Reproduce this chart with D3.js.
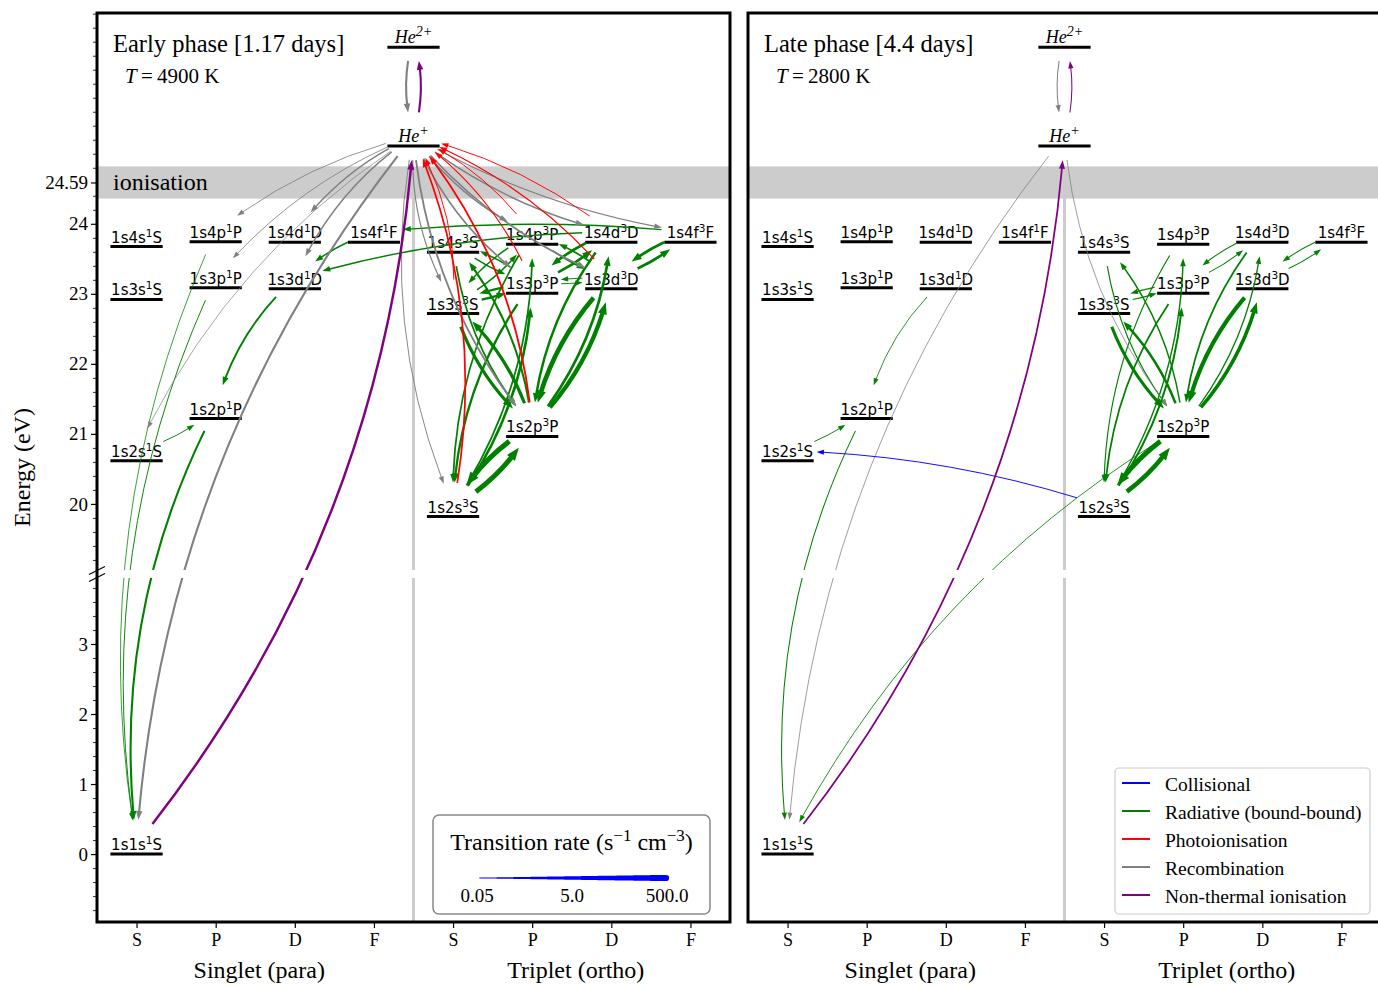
<!DOCTYPE html>
<html><head><meta charset="utf-8">
<script src="https://cdn.jsdelivr.net/npm/d3@7"></script>
<style>body{margin:0;background:#fff}svg{display:block}</style>
</head><body>
<svg id="chart" width="1378" height="985"></svg>
<script>
// ================= DATA =================
const columns = ["S","P","D","F","S","P","D","F"];
const yTicksLow = [0,1,2,3];
const yTicksHigh = [20,21,22,23,24,24.59];
const ionisationEnergy = 24.59;
const rateLegendTicks = [0.05, 5.0, 500.0];
const phaseTitles = ["Early phase [1.17 days]", "Late phase [4.4 days]"];
const phaseTemps = [4900, 2800];
const legendTypes = ["Collisional","Radiative (bound-bound)","Photoionisation","Recombination","Non-thermal ionisation"];

// [name, spin, L, energy (eV)]
const levels = [
  ["1s1s1S","singlet","S",0.0],
  ["1s2s1S","singlet","S",20.616],
  ["1s3s1S","singlet","S",22.920],
  ["1s4s1S","singlet","S",23.674],
  ["1s2p1P","singlet","P",21.218],
  ["1s3p1P","singlet","P",23.087],
  ["1s4p1P","singlet","P",23.742],
  ["1s3d1D","singlet","D",23.074],
  ["1s4d1D","singlet","D",23.736],
  ["1s4f1F","singlet","F",23.737],
  ["1s2s3S","triplet","S",19.820],
  ["1s3s3S","triplet","S",22.718],
  ["1s4s3S","triplet","S",23.594],
  ["1s2p3P","triplet","P",20.964],
  ["1s3p3P","triplet","P",23.007],
  ["1s4p3P","triplet","P",23.708],
  ["1s3d3D","triplet","D",23.074],
  ["1s4d3D","triplet","D",23.736],
  ["1s4f3F","triplet","F",23.737],
  ["He+","ion",null,25.11],
  ["He2+","ion",null,26.52]
];

// transitions: [from, to, rate (s^-1 cm^-3)]
const earlyCollisional = [];
const earlyRadiative = [
  ["1s2p1P","1s1s1S",1.0],["1s3p1P","1s1s1S",0.1],["1s4p1P","1s1s1S",0.07],
  ["1s2s1S","1s2p1P",0.1],["1s3d1D","1s2p1P",0.6],["1s4f1F","1s3d1D",0.3],
  ["1s4f3F","1s4f1F",0.25],["1s4d3D","1s3d1D",0.25],
  ["1s2p3P","1s2s3S",500],["1s2s3S","1s2p3P",300],
  ["1s3d3D","1s2p3P",150],["1s2p3P","1s3d3D",80],
  ["1s3s3S","1s2p3P",10],["1s2p3P","1s3s3S",8],
  ["1s3p3P","1s2s3S",1.5],["1s2s3S","1s3p3P",3],
  ["1s4p3P","1s2s3S",0.5],["1s2s3S","1s4p3P",0.5],
  ["1s4s3S","1s2p3P",0.5],["1s2p3P","1s4s3S",1.0],
  ["1s4d3D","1s2p3P",2],["1s2p3P","1s4d3D",3],
  ["1s3p3P","1s3s3S",1.5],["1s3s3S","1s3p3P",1.5],
  ["1s4f3F","1s3d3D",5],["1s3d3D","1s4f3F",5],
  ["1s4d3D","1s3p3P",3],["1s3p3P","1s4d3D",3],
  ["1s4p3P","1s3s3S",0.3],["1s3s3S","1s4p3P",0.3],
  ["1s4s3S","1s3p3P",0.3],["1s3p3P","1s4s3S",0.3],
  ["1s4p3P","1s3d3D",0.3],["1s3d3D","1s4p3P",0.5],
  ["1s3d3D","1s3p3P",0.1],["1s3p3P","1s3d3D",0.1]
];
const earlyPhotoionisation = [
  ["1s2s3S","He+",0.5],["1s2p3P","He+",0.6],["1s3s3S","He+",0.1],
  ["1s3p3P","He+",0.15],["1s3d3D","He+",0.15],["1s4p3P","He+",0.1],["1s4d3D","He+",0.1]
];
const earlyRecombination = [
  ["He2+","He+",1.0],["He+","1s1s1S",1.0],["He+","1s2s1S",0.06],["He+","1s3p1P",0.08],
  ["He+","1s4p1P",0.08],["He+","1s3d1D",0.25],["He+","1s4d1D",0.25],
  ["He+","1s2s3S",0.1],["He+","1s2p3P",0.6],["He+","1s3s3S",0.15],["He+","1s3p3P",0.4],
  ["He+","1s3d3D",0.5],["He+","1s4p3P",0.3],["He+","1s4d3D",0.3],["He+","1s4f3F",0.15]
];
const earlyNonThermal = [["1s1s1S","He+",2.0],["He+","He2+",1.0]];

const lateCollisional = [["1s2s3S","1s2s1S",0.1]];
const lateRadiative = [
  ["1s2p1P","1s1s1S",0.12],["1s2s1S","1s2p1P",0.1],["1s3d1D","1s2p1P",0.08],["1s2p3P","1s1s1S",0.08],
  ["1s2p3P","1s2s3S",300],["1s2s3S","1s2p3P",150],
  ["1s3d3D","1s2p3P",60],["1s2p3P","1s3d3D",20],
  ["1s3s3S","1s2p3P",8],["1s2p3P","1s3s3S",2],
  ["1s4d3D","1s2p3P",0.5],["1s2p3P","1s4d3D",0.2],
  ["1s3p3P","1s2s3S",0.5],["1s2s3S","1s3p3P",0.8],
  ["1s4p3P","1s2s3S",0.15],["1s2s3S","1s4p3P",0.25],
  ["1s4s3S","1s2p3P",0.15],["1s2p3P","1s4s3S",0.25],
  ["1s3p3P","1s3s3S",0.15],["1s3s3S","1s3p3P",0.15],
  ["1s4d3D","1s3p3P",0.12],["1s3p3P","1s4d3D",0.12],
  ["1s4f3F","1s3d3D",0.12],["1s3d3D","1s4f3F",0.12]
];
const latePhotoionisation = [];
const lateRecombination = [["He2+","He+",0.12],["He+","1s1s1S",0.07],["He+","1s2p3P",0.07]];
const lateNonThermal = [["1s1s1S","He+",0.5],["He+","He2+",0.12]];

// ================= DRAWING =================
const svg = d3.select("#chart");
const serif = "'Liberation Serif','Times New Roman',serif";
const sans = "'DejaVu Sans','Noto Sans',sans-serif";
const typeColors = {"Collisional":"blue","Radiative (bound-bound)":"green","Photoionisation":"red","Recombination":"gray","Non-thermal ionisation":"purple"};
const panelLeft = [97, 748], panelW = 633, plotTop = 13, plotBottom = 922;
const y = d3.scaleLinear().domain([-0.97, 12.01]).range([plotBottom, plotTop]);
const shiftE = E => E > 10 ? E - 15 : E;   // broken axis: upper segment shifted by 15 eV
const breakAt = 4.0;
const wScale = d3.scaleLog().domain([0.05, 500]).range([0.6, 5.2]).clamp(true);
const colOf = (spin, L) => spin === "ion" ? 3.5 : (spin === "triplet" ? 4 : 0) + ["S","P","D","F"].indexOf(L);
const levelMap = new Map(levels.map(d => [d[0], {name:d[0], col:colOf(d[1], d[2]), E:d[3], spin:d[1]}]));

const phaseData = [
  [[earlyRadiative,"Radiative (bound-bound)"],[earlyRecombination,"Recombination"],[earlyPhotoionisation,"Photoionisation"],[earlyCollisional,"Collisional"],[earlyNonThermal,"Non-thermal ionisation"]],
  [[lateRadiative,"Radiative (bound-bound)"],[lateRecombination,"Recombination"],[latePhotoionisation,"Photoionisation"],[lateCollisional,"Collisional"],[lateNonThermal,"Non-thermal ionisation"]]
];

const HW = 27, HH = 22, SHRINK = 2;
function drawArrow(g, x, from, to, color, rate) {
  const a = levelMap.get(from), b = levelMap.get(to);
  const p0 = [x(a.col), y(shiftE(a.E)) - 10];
  const p2 = [x(b.col), y(shiftE(b.E)) - 10];
  const dx = p2[0]-p0[0], dy = p2[1]-p0[1], L = Math.hypot(dx, dy);
  const rad = 0.15*Math.abs(dy)/L + 0.05*Math.abs(dx)/L;
  const c = [(p0[0]+p2[0])/2 - rad*dy, (p0[1]+p2[1])/2 + rad*dx];
  const B = t => { const u = 1-t; return [u*u*p0[0]+2*u*t*c[0]+t*t*p2[0], u*u*p0[1]+2*u*t*c[1]+t*t*p2[1]]; };
  const D = t => [2*(1-t)*(c[0]-p0[0])+2*t*(p2[0]-c[0]), 2*(1-t)*(c[1]-p0[1])+2*t*(p2[1]-c[1])];
  const inside = (p, q) => Math.pow((p[0]-q[0])/HW, 2) + Math.pow((p[1]-q[1])/HH, 2) < 1;
  const N = 3000;
  let t0 = 0, t1 = 1;
  for (let i = 0; i <= N; i++) { const t = i/N; if (!inside(B(t), p0)) { t0 = t; break; } }
  for (let i = N; i >= 0; i--) { const t = i/N; if (!inside(B(t), p2)) { t1 = t; break; } }
  t0 += SHRINK / Math.hypot(...D(t0));
  t1 -= SHRINK / Math.hypot(...D(t1));
  if (t1 <= t0) return;
  const lw = wScale(rate);
  const headL = 6 + 1.4*lw, headW = 4 + 1.2*lw;
  const tip = B(t1);
  let tb = t1;
  const step = (t1 - t0)/2000;
  while (tb > t0) { tb -= step; const p = B(tb); if (Math.hypot(p[0]-tip[0], p[1]-tip[1]) >= headL) break; }
  const base = B(tb);
  const len = Math.hypot(tip[0]-base[0], tip[1]-base[1]) || 1;
  const ux = (tip[0]-base[0])/len, uy = (tip[1]-base[1])/len;
  const bx = tip[0] - ux*headL, by = tip[1] - uy*headL;
  const tEnd = tb + (t1 - tb)*0.3;
  const q0 = B(t0), q2 = B(tEnd), d0 = D(t0);
  const qc = [q0[0] + (tEnd-t0)/2*d0[0], q0[1] + (tEnd-t0)/2*d0[1]];
  g.append("path").attr("d", `M${q0[0]},${q0[1]}Q${qc[0]},${qc[1]} ${q2[0]},${q2[1]}`)
    .attr("fill","none").attr("stroke", color).attr("stroke-width", lw).attr("stroke-linecap","butt");
  g.append("path").attr("d", `M${tip[0]},${tip[1]}L${bx - uy*headW/2},${by + ux*headW/2}L${bx + uy*headW/2},${by - ux*headW/2}Z`)
    .attr("fill", color).attr("stroke", "none");
}

function levelLabel(sel, name) {
  if (name.startsWith("He")) {
    sel.attr("font-family", serif).attr("font-style","italic").attr("font-size", 18);
    sel.append("tspan").text("He");
    sel.append("tspan").attr("dy", -7).attr("font-size", 14).text(name === "He+" ? "+" : "2+");
  } else {
    sel.attr("font-family", sans).attr("font-size", 15);
    sel.append("tspan").text(name.slice(0, 4));
    sel.append("tspan").attr("dy", -6).attr("font-size", 10.5).text(name[4]);
    sel.append("tspan").attr("dy", 6).text(name[5]);
  }
}

phaseTitles.forEach((title, pi) => {
  const px = panelLeft[pi];
  const x = d3.scaleLinear().domain([-0.5, 7.5]).range([px, px + panelW]);
  const g = svg.append("g");

  // ionisation band
  g.append("rect").attr("x", px).attr("width", panelW)
    .attr("y", y(shiftE(ionisationEnergy + 0.23))).attr("height", y(shiftE(ionisationEnergy - 0.23)) - y(shiftE(ionisationEnergy + 0.23)))
    .attr("fill", "#cccccc");
  if (pi === 0) {
    g.append("text").attr("x", px + 16).attr("y", y(shiftE(ionisationEnergy)) + 8)
      .attr("font-family", serif).attr("font-size", 24).text("ionisation");
  }
  // singlet / triplet separator
  g.append("line").attr("x1", x(3.5)).attr("x2", x(3.5))
    .attr("y1", y(shiftE(24.5))).attr("y2", plotBottom).attr("stroke", "#cccccc").attr("stroke-width", 3);

  // levels
  levels.forEach(d => {
    const L = levelMap.get(d[0]);
    const yy = y(shiftE(L.E));
    g.append("line").attr("x1", x(L.col - 0.33)).attr("x2", x(L.col + 0.33)).attr("y1", yy).attr("y2", yy)
      .attr("stroke", "#000").attr("stroke-width", 3);
    const t = g.append("text").attr("x", x(L.col)).attr("y", yy - 4).attr("text-anchor", "middle");
    levelLabel(t, d[0]);
  });

  // transitions
  phaseData[pi].forEach(([list, type]) => {
    list.forEach(tr => drawArrow(g, x, tr[0], tr[1], typeColors[type], tr[2]));
  });

  // broken-axis gap
  g.append("rect").attr("x", px + 2).attr("width", panelW - 4)
    .attr("y", y(breakAt) - 4).attr("height", 8).attr("fill", "#fff");

  // titles
  g.append("text").attr("x", px + 16).attr("y", 52).attr("font-family", serif).attr("font-size", 24.5).text(title);
  const tt = g.append("text").attr("x", px + 28).attr("y", 83).attr("font-family", serif).attr("font-size", 21);
  tt.append("tspan").attr("font-style", "italic").text("T");
  tt.append("tspan").text("\u2009=\u2009" + phaseTemps[pi] + " K");

  // frame
  g.append("rect").attr("x", px).attr("y", plotTop).attr("width", panelW).attr("height", plotBottom - plotTop)
    .attr("fill", "none").attr("stroke", "#000").attr("stroke-width", 3);

  // x axis
  const xa = g.append("g").attr("transform", `translate(0,${plotBottom + 1})`)
    .call(d3.axisBottom(x).tickValues(d3.range(8)).tickFormat(i => columns[i]).tickSize(5));
  xa.select(".domain").remove();
  xa.selectAll("line").attr("stroke-width", 1.2);
  xa.selectAll("text").attr("font-family", serif).attr("font-size", 18).attr("y", 23).attr("dy", 0).attr("fill", "#000");
  g.append("text").attr("x", (x(0) + x(3))/2 + 4).attr("y", 978).attr("text-anchor", "middle")
    .attr("font-family", serif).attr("font-size", 24).text("Singlet (para)");
  g.append("text").attr("x", (x(4) + x(7))/2 + 4).attr("y", 978).attr("text-anchor", "middle")
    .attr("font-family", serif).attr("font-size", 24).text("Triplet (ortho)");

  if (pi === 0) {
    // y axis (broken)
    const majors = yTicksLow.concat(yTicksHigh.map(shiftE));
    const ya = g.append("g").attr("transform", `translate(${px - 1},0)`)
      .call(d3.axisLeft(y).tickValues(majors).tickSize(5)
        .tickFormat(v => String(Math.round((v > breakAt ? v + 15 : v) * 100) / 100)));
    ya.select(".domain").remove();
    ya.selectAll("line").attr("stroke-width", 1.2);
    ya.selectAll("text").attr("font-family", serif).attr("font-size", 19).attr("fill", "#000").attr("x", -8);
    const minors = d3.range(-0.8, 12.01, 0.2).filter(v => Math.abs(v - breakAt) > 0.1 && majors.every(m => Math.abs(m - v) > 0.05));
    const ym = g.append("g").attr("transform", `translate(${px - 1},0)`)
      .call(d3.axisLeft(y).tickValues(minors).tickSize(3).tickFormat(""));
    ym.select(".domain").remove();
    ym.selectAll("line").attr("stroke-width", 0.8);
    // break marks
    [-3.5, 3.5].forEach(o => {
      g.append("line").attr("x1", px - 8).attr("x2", px + 8)
        .attr("y1", y(breakAt) + o + 4).attr("y2", y(breakAt) + o - 4)
        .attr("stroke", "#000").attr("stroke-width", 1.2);
    });
    g.append("text").attr("transform", `translate(30,${(plotTop + plotBottom)/2}) rotate(-90)`)
      .attr("text-anchor", "middle").attr("font-family", serif).attr("font-size", 24).text("Energy (eV)");

    // rate legend
    const lg = g.append("g");
    lg.append("rect").attr("x", 433).attr("y", 815).attr("width", 277).attr("height", 99).attr("rx", 6)
      .attr("fill", "#fff").attr("stroke", "#888").attr("stroke-width", 1.5);
    const lt = lg.append("text").attr("x", 571.5).attr("y", 850).attr("text-anchor", "middle")
      .attr("font-family", serif).attr("font-size", 24);
    lt.append("tspan").text("Transition rate (s");
    lt.append("tspan").attr("dy", -9).attr("font-size", 17).text("\u22121");
    lt.append("tspan").attr("dy", 9).text(" cm");
    lt.append("tspan").attr("dy", -9).attr("font-size", 17).text("\u22123");
    lt.append("tspan").attr("dy", 9).text(")");
    const lx = d3.scaleLog().domain([0.05, 500]).range([479, 666]);
    const rs = d3.range(0, 101).map(i => Math.pow(10, Math.log10(0.05) + i/100*4));
    const taper = d3.area().x(r => lx(r)).y0(r => 878 - wScale(r)/2 * 1.2).y1(r => 878 + wScale(r)/2 * 1.2);
    lg.append("path").attr("d", taper(rs)).attr("fill", "blue");
    lg.append("circle").attr("cx", lx(500)).attr("cy", 878).attr("r", wScale(500)/2*1.2).attr("fill", "blue");
    const lxl = d3.scaleLog().domain([0.05, 500]).range([477, 667]);
    rateLegendTicks.forEach(r => {
      lg.append("text").attr("x", lxl(r)).attr("y", 902).attr("text-anchor", "middle")
        .attr("font-family", serif).attr("font-size", 19).text(r === 0.05 ? "0.05" : r.toFixed(1));
    });
  } else {
    // type legend
    const lg = g.append("g");
    lg.append("rect").attr("x", 1115).attr("y", 768).attr("width", 255).attr("height", 146).attr("rx", 4)
      .attr("fill", "#fff").attr("fill-opacity", 0.8).attr("stroke", "#cccccc").attr("stroke-width", 1.2);
    legendTypes.forEach((tname, i) => {
      const yy = 783 + i*28;
      lg.append("line").attr("x1", 1122).attr("x2", 1150).attr("y1", yy).attr("y2", yy)
        .attr("stroke", typeColors[tname]).attr("stroke-width", 2);
      lg.append("text").attr("x", 1165).attr("y", yy + 8).attr("font-family", serif).attr("font-size", 19.5).text(tname);
    });
  }
});
</script>
</body></html>
